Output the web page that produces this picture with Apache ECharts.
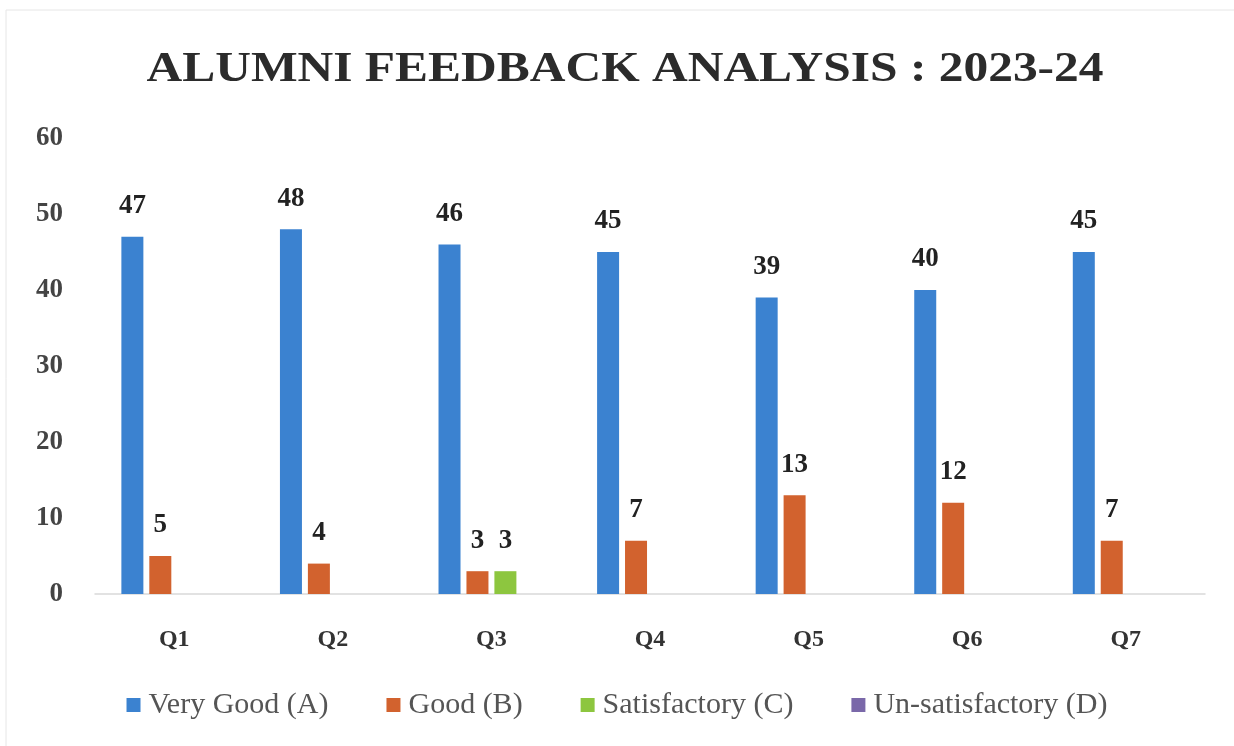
<!DOCTYPE html>
<html>
<head>
<meta charset="utf-8">
<script src="https://cdn.jsdelivr.net/npm/echarts@6/dist/echarts.min.js"></script>
<style>
html, body { margin: 0; padding: 0; background: #fff; }
#main { width: 1234px; height: 746px; }
</style>
</head>
<body>
<div id="main"></div>
<script>
var questions = ['Q1', 'Q2', 'Q3', 'Q4', 'Q5', 'Q6', 'Q7'];
var veryGood = [47, 48, 46, 45, 39, 40, 45];
var good = [5, 4, 3, 7, 13, 12, 7];
var satisfactory = [0, 0, 3, 0, 0, 0, 0];
var unsatisfactory = [0, 0, 0, 0, 0, 0, 0];
var seriesNames = ['Very Good (A)', 'Good (B)', 'Satisfactory (C)', 'Un-satisfactory (D)'];
var colors = ['#3b82d0', '#d2622e', '#8dc63f', '#7a68a9'];
var titleText = 'ALUMNI FEEDBACK ANALYSIS : 2023-24';

var chart = echarts.init(document.getElementById('main'));

function makeSeries(name, data, color) {
	return {
		name: name,
		type: 'bar',
		data: data,
		barWidth: 22,
		barGap: '27%',
		itemStyle: { color: color },
		label: {
			show: true,
			position: 'top',
			distance: 17,
			fontFamily: 'Liberation Serif',
			fontWeight: 'bold',
			fontSize: 27,
			color: '#222',
			formatter: function (p) { return p.value ? p.value : ''; }
		}
	};
}

var option = {
	backgroundColor: '#fff',
	animation: false,
	color: colors,
	legend: {
		bottom: 21,
		left: 'center',
		itemWidth: 14,
		itemHeight: 14,
		itemGap: 58,
		icon: 'rect',
		textStyle: {
			fontFamily: 'Liberation Serif',
			fontSize: 30,
			color: '#555',
			padding: [0, 0, 0, 3]
		},
		data: seriesNames
	},
	grid: {
		left: 95,
		right: 29,
		top: 138,
		bottom: 152
	},
	xAxis: {
		type: 'category',
		data: questions,
		axisLine: { lineStyle: { color: '#d9d9d9', width: 1.5 } },
		axisTick: { show: false },
		axisLabel: {
			margin: 34,
			fontFamily: 'Liberation Serif',
			fontWeight: 'bold',
			fontSize: 24,
			color: '#333'
		}
	},
	yAxis: {
		type: 'value',
		min: 0,
		max: 60,
		interval: 10,
		axisLine: { show: false },
		axisTick: { show: false },
		splitLine: { show: false },
		axisLabel: {
			margin: 32,
			fontFamily: 'Liberation Serif',
			fontWeight: 'bold',
			fontSize: 27,
			color: '#444'
		}
	},
	graphic: [{
		type: 'rect',
		shape: { x: 6, y: 10, width: 1240, height: 760 },
		style: { fill: 'none', stroke: '#e6e6e6', lineWidth: 1 },
		silent: true
	}, {
		type: 'text',
		x: 625,
		y: 70,
		scaleX: 1.15,
		style: {
			text: titleText,
			fontFamily: 'Liberation Serif',
			fontWeight: 'bold',
			fontSize: 43,
			fill: '#2b2b2b',
			align: 'center',
			verticalAlign: 'middle'
		}
	}],
	series: [
		makeSeries(seriesNames[0], veryGood, colors[0]),
		makeSeries(seriesNames[1], good, colors[1]),
		makeSeries(seriesNames[2], satisfactory, colors[2]),
		makeSeries(seriesNames[3], unsatisfactory, colors[3])
	]
};

chart.setOption(option);
</script>
</body>
</html>
